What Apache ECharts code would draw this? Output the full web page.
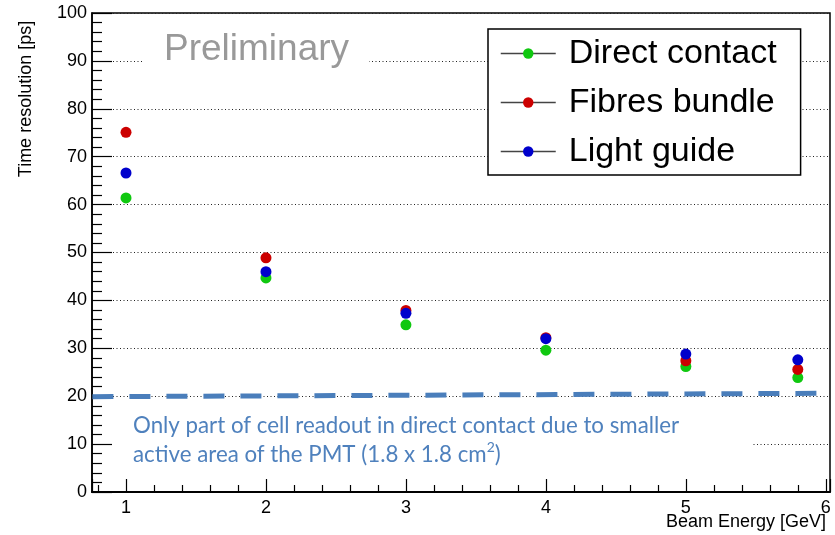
<!DOCTYPE html>
<html>
<head>
<meta charset="utf-8">
<script src="https://cdn.jsdelivr.net/npm/echarts@6/dist/echarts.min.js"></script>
<style>
  html, body { margin: 0; padding: 0; background: #fff; }
  #chart { width: 835px; height: 535px; }
</style>
</head>
<body>
<div id="chart"></div>
<script>
// Beam energies (GeV) at which the time resolution was measured
const beamEnergy = [1, 2, 3, 4, 5, 5.8];

// Time resolution (ps) for each readout configuration
const directContact = [61.4, 44.7, 34.9, 29.6, 26.2, 23.9];
const fibresBundle  = [75.1, 48.9, 37.9, 32.2, 27.4, 25.6];
const lightGuide    = [66.6, 46.0, 37.3, 32.0, 28.8, 27.6];

const seriesNames = ['Direct contact', 'Fibres bundle', 'Light guide'];
const seriesColors = ['#10c810', '#cc0000', '#0000cc'];

// ~20 ps reference level (dashed guide), endpoints in axis units
const refLineX = [0.76, 5.94];
const refLineY = [19.9, 20.6];

// Axis ranges
const xRange = [0.757, 6.03];
const yRange = [0, 100];

const noteText = 'Only part of cell readout in direct contact due to smaller\nactive area of the PMT (1.8 x 1.8 cm{s|2})';

const pairs = (xs, ys) => xs.map((x, i) => [x, ys[i]]);

const chart = echarts.init(document.getElementById('chart'), null, { renderer: 'canvas' });

const FONT = 'Liberation Sans, Arial, Helvetica, sans-serif';
const NOTE_FONT = 'Lato, Open Sans, sans-serif';

const pointSeries = [directContact, fibresBundle, lightGuide].map((vals, i) => ({
  name: seriesNames[i],
  type: 'line',
  data: pairs(beamEnergy, vals),
  symbol: 'circle',
  symbolSize: 11,
  showSymbol: true,
  itemStyle: { color: seriesColors[i] },
  lineStyle: { opacity: 0 },
  z: 5 + i,
  animation: false
}));

const option = {
  backgroundColor: '#fff',
  animation: false,
  grid: {
    left: 92, right: 5, top: 13, bottom: 43,
    show: true, borderColor: '#000', borderWidth: 1.5, backgroundColor: 'transparent'
  },
  legend: {
    data: seriesNames,
    orient: 'vertical',
    left: 488, top: 29,
    padding: [6, 24, 5, 12],
    itemWidth: 55, itemHeight: 13, itemGap: 12,
    backgroundColor: '#fff',
    borderColor: '#000', borderWidth: 1.5, borderRadius: 0,
    lineStyle: { color: '#444', width: 1.5, opacity: 1 },
    textStyle: { fontFamily: FONT, fontSize: 34, color: '#000', lineHeight: 37, padding: [0, 0, 0, 8] },
    selectedMode: false,
    z: 10
  },
  xAxis: {
    type: 'value',
    min: xRange[0], max: xRange[1],
    splitNumber: 5,
    axisLine: { show: true, lineStyle: { color: '#000', width: 2 } },
    axisTick: { show: true, inside: true, length: 13, lineStyle: { color: '#000', width: 1.2 } },
    minorTick: { show: true, splitNumber: 5, length: 7, lineStyle: { color: '#000', width: 1.2 } },
    axisLabel: {
      show: true, margin: 7, fontFamily: FONT, fontSize: 18, color: '#000',
      showMinLabel: false, showMaxLabel: false,
      formatter: v => (Math.abs(v - Math.round(v)) < 1e-6 ? String(Math.round(v)) : '')
    },
    splitLine: { show: false }
  },
  yAxis: {
    type: 'value',
    min: yRange[0], max: yRange[1], interval: 10,
    axisLine: { show: true, lineStyle: { color: '#000', width: 1.5 } },
    axisTick: { show: true, inside: true, length: 20, lineStyle: { color: '#000', width: 1.2 } },
    minorTick: { show: true, splitNumber: 5, length: 10, lineStyle: { color: '#000', width: 1.2 } },
    axisLabel: { margin: 5, fontFamily: FONT, fontSize: 18, color: '#000' },
    splitLine: { show: true, lineStyle: { color: '#222', width: 1, type: [1, 2.5] } }
  },
  graphic: [
    {
      type: 'text',
      x: 26, y: 99, rotation: Math.PI / 2,
      style: {
        text: 'Time resolution [ps]', fontFamily: FONT, fontSize: 18, fill: '#000',
        align: 'center', verticalAlign: 'middle'
      },
      z: 20
    },
    {
      type: 'text',
      x: 826, y: 522,
      style: {
        text: 'Beam Energy [GeV]', fontFamily: FONT, fontSize: 18, fill: '#000',
        align: 'right', verticalAlign: 'middle'
      },
      z: 20
    },
    {
      type: 'text',
      x: 143, y: 50,
      style: {
        text: 'Preliminary', fontFamily: FONT, fontSize: 37, fill: '#999',
        align: 'left', verticalAlign: 'middle',
        backgroundColor: '#fff', padding: [6, 20, 6, 21]
      },
      z: 20
    },
    {
      type: 'rect',
      shape: { x: 113, y: 408, width: 639, height: 66 },
      style: { fill: '#fff' },
      z: 20
    },
    {
      type: 'text',
      x: 133, y: 411,
      style: {
        text: noteText,
        fontFamily: NOTE_FONT, fontSize: 22.3, lineHeight: 29, fill: '#4f81bd',
        align: 'left', verticalAlign: 'top',
        rich: {
          s: { fontFamily: NOTE_FONT, fontSize: 14, lineHeight: 20, verticalAlign: 'top', fill: '#4f81bd' }
        }
      },
      z: 21
    }
  ],
  series: [
    ...pointSeries,
    {
      name: 'ref',
      type: 'line',
      data: pairs(refLineX, refLineY),
      symbol: 'none',
      silent: true,
      lineStyle: { color: '#4a7ebb', width: 5, type: [21, 16] },
      z: 4,
      animation: false
    }
  ]
};

chart.setOption(option);
</script>
</body>
</html>
